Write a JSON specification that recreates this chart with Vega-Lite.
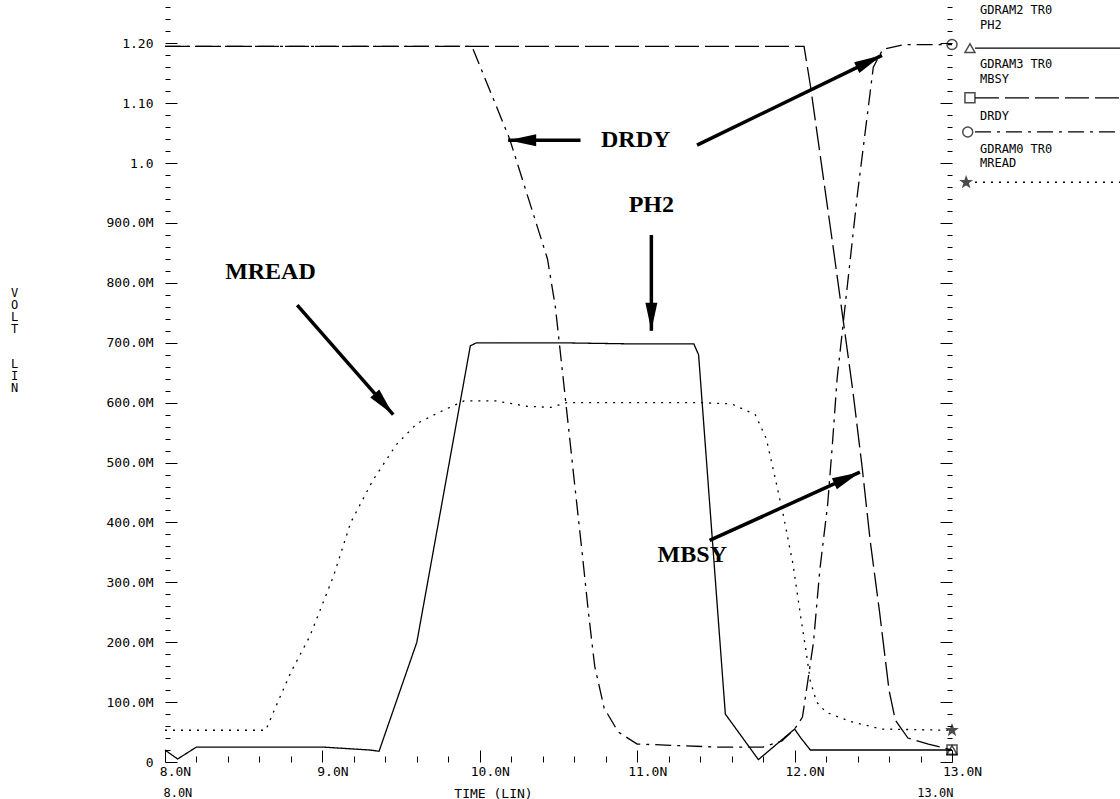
{
  "$schema": "https://vega.github.io/schema/vega-lite/v6.json",
  "width": 787,
  "height": 757,
  "autosize": {"type": "none"},
  "padding": {"left": 165, "top": 5, "right": 168, "bottom": 37},
  "background": "white",
  "config": {
    "view": {"stroke": null},
    "font": "DejaVu Sans Mono",
    "axis": {"labelColor": "black", "tickColor": "black", "titleColor": "black", "domain": false, "grid": false, "labelFont": "DejaVu Sans Mono", "titleFont": "DejaVu Sans Mono"}
  },
  "datasets": {
    "signals": [
      {"t": 8.0, "v": 0.02, "sig": "PH2"}, {"t": 8.08, "v": 0.005, "sig": "PH2"}, {"t": 8.2, "v": 0.025, "sig": "PH2"},
      {"t": 9.0, "v": 0.025, "sig": "PH2"}, {"t": 9.3, "v": 0.02, "sig": "PH2"}, {"t": 9.36, "v": 0.018, "sig": "PH2"},
      {"t": 9.6, "v": 0.2, "sig": "PH2"}, {"t": 9.94, "v": 0.695, "sig": "PH2"}, {"t": 9.98, "v": 0.7, "sig": "PH2"},
      {"t": 10.5, "v": 0.7, "sig": "PH2"}, {"t": 11.0, "v": 0.698, "sig": "PH2"}, {"t": 11.36, "v": 0.698, "sig": "PH2"},
      {"t": 11.39, "v": 0.68, "sig": "PH2"}, {"t": 11.56, "v": 0.08, "sig": "PH2"}, {"t": 11.77, "v": 0.004, "sig": "PH2"},
      {"t": 12.0, "v": 0.055, "sig": "PH2"}, {"t": 12.04, "v": 0.04, "sig": "PH2"}, {"t": 12.1, "v": 0.02, "sig": "PH2"},
      {"t": 12.5, "v": 0.02, "sig": "PH2"}, {"t": 13.0, "v": 0.02, "sig": "PH2"},

      {"t": 8.0, "v": 0.053, "sig": "MREAD"}, {"t": 8.64, "v": 0.053, "sig": "MREAD"}, {"t": 8.7, "v": 0.09, "sig": "MREAD"},
      {"t": 8.8, "v": 0.15, "sig": "MREAD"}, {"t": 8.92, "v": 0.21, "sig": "MREAD"}, {"t": 9.07, "v": 0.31, "sig": "MREAD"},
      {"t": 9.18, "v": 0.4, "sig": "MREAD"}, {"t": 9.32, "v": 0.47, "sig": "MREAD"}, {"t": 9.47, "v": 0.53, "sig": "MREAD"},
      {"t": 9.6, "v": 0.565, "sig": "MREAD"}, {"t": 9.75, "v": 0.585, "sig": "MREAD"}, {"t": 9.9, "v": 0.603, "sig": "MREAD"},
      {"t": 10.1, "v": 0.603, "sig": "MREAD"}, {"t": 10.3, "v": 0.594, "sig": "MREAD"}, {"t": 10.45, "v": 0.592, "sig": "MREAD"},
      {"t": 10.55, "v": 0.6, "sig": "MREAD"}, {"t": 11.0, "v": 0.6, "sig": "MREAD"}, {"t": 11.4, "v": 0.6, "sig": "MREAD"},
      {"t": 11.6, "v": 0.598, "sig": "MREAD"}, {"t": 11.75, "v": 0.58, "sig": "MREAD"}, {"t": 11.82, "v": 0.54, "sig": "MREAD"},
      {"t": 11.88, "v": 0.47, "sig": "MREAD"}, {"t": 11.93, "v": 0.41, "sig": "MREAD"}, {"t": 11.99, "v": 0.33, "sig": "MREAD"},
      {"t": 12.04, "v": 0.24, "sig": "MREAD"}, {"t": 12.07, "v": 0.19, "sig": "MREAD"}, {"t": 12.1, "v": 0.135, "sig": "MREAD"},
      {"t": 12.14, "v": 0.1, "sig": "MREAD"}, {"t": 12.2, "v": 0.083, "sig": "MREAD"}, {"t": 12.35, "v": 0.068, "sig": "MREAD"},
      {"t": 12.55, "v": 0.055, "sig": "MREAD"}, {"t": 13.0, "v": 0.053, "sig": "MREAD"},

      {"t": 8.0, "v": 1.195, "sig": "DRDY"}, {"t": 9.95, "v": 1.195, "sig": "DRDY"}, {"t": 10.19, "v": 1.04, "sig": "DRDY"},
      {"t": 10.43, "v": 0.84, "sig": "DRDY"}, {"t": 10.48, "v": 0.76, "sig": "DRDY"}, {"t": 10.53, "v": 0.64, "sig": "DRDY"},
      {"t": 10.6, "v": 0.47, "sig": "DRDY"}, {"t": 10.65, "v": 0.35, "sig": "DRDY"}, {"t": 10.69, "v": 0.25, "sig": "DRDY"},
      {"t": 10.73, "v": 0.16, "sig": "DRDY"}, {"t": 10.79, "v": 0.09, "sig": "DRDY"}, {"t": 10.88, "v": 0.05, "sig": "DRDY"},
      {"t": 11.0, "v": 0.03, "sig": "DRDY"}, {"t": 11.5, "v": 0.025, "sig": "DRDY"}, {"t": 11.8, "v": 0.025, "sig": "DRDY"},
      {"t": 11.92, "v": 0.035, "sig": "DRDY"}, {"t": 12.0, "v": 0.055, "sig": "DRDY"}, {"t": 12.05, "v": 0.075, "sig": "DRDY"},
      {"t": 12.12, "v": 0.2, "sig": "DRDY"}, {"t": 12.16, "v": 0.32, "sig": "DRDY"}, {"t": 12.21, "v": 0.43, "sig": "DRDY"},
      {"t": 12.24, "v": 0.53, "sig": "DRDY"}, {"t": 12.27, "v": 0.64, "sig": "DRDY"}, {"t": 12.4, "v": 0.95, "sig": "DRDY"},
      {"t": 12.5, "v": 1.16, "sig": "DRDY"}, {"t": 12.56, "v": 1.19, "sig": "DRDY"}, {"t": 12.7, "v": 1.198, "sig": "DRDY"},
      {"t": 13.0, "v": 1.198, "sig": "DRDY"},

      {"t": 8.0, "v": 1.195, "sig": "MBSY"}, {"t": 12.06, "v": 1.195, "sig": "MBSY"}, {"t": 12.1, "v": 1.13, "sig": "MBSY"},
      {"t": 12.25, "v": 0.85, "sig": "MBSY"}, {"t": 12.37, "v": 0.62, "sig": "MBSY"}, {"t": 12.43, "v": 0.49, "sig": "MBSY"},
      {"t": 12.48, "v": 0.37, "sig": "MBSY"}, {"t": 12.54, "v": 0.25, "sig": "MBSY"}, {"t": 12.6, "v": 0.12, "sig": "MBSY"},
      {"t": 12.64, "v": 0.07, "sig": "MBSY"}, {"t": 12.72, "v": 0.04, "sig": "MBSY"}, {"t": 12.85, "v": 0.03, "sig": "MBSY"},
      {"t": 13.0, "v": 0.02, "sig": "MBSY"}
    ],
    "markers": [
      {"t": 13.0, "v": 0.02, "sig": "PH2"}, {"t": 13.0, "v": 0.02, "sig": "MBSY"},
      {"t": 13.0, "v": 1.198, "sig": "DRDY"}, {"t": 13.0, "v": 0.053, "sig": "MREAD"},
      {"t": 13.114, "v": 1.192, "sig": "PH2"}, {"t": 13.114, "v": 1.109, "sig": "MBSY"},
      {"t": 13.1, "v": 1.052, "sig": "DRDY"}, {"t": 13.09, "v": 0.968, "sig": "MREAD"}
    ],
    "legendlines": [
      {"t1": 13.146, "t2": 14.07, "v": 1.192, "sig": "PH2"},
      {"t1": 13.146, "t2": 14.07, "v": 1.109, "sig": "MBSY"},
      {"t1": 13.146, "t2": 14.07, "v": 1.052, "sig": "DRDY"},
      {"t1": 13.146, "t2": 14.07, "v": 0.968, "sig": "MREAD"}
    ],
    "labels": [
      {"t": 13.178, "v": 1.255, "text": "GDRAM2 TR0"},
      {"t": 13.178, "v": 1.231, "text": "PH2"},
      {"t": 13.178, "v": 1.165, "text": "GDRAM3 TR0"},
      {"t": 13.178, "v": 1.141, "text": "MBSY"},
      {"t": 13.178, "v": 1.078, "text": "DRDY"},
      {"t": 13.178, "v": 1.024, "text": "GDRAM0 TR0"},
      {"t": 13.178, "v": 1.0, "text": "MREAD"},
      {"t": 7.99, "v": -0.052, "text": "8.0N"},
      {"t": 12.78, "v": -0.052, "text": "13.0N"}
    ],
    "notes": [
      {"t": 10.99, "v": 1.038, "text": "DRDY"},
      {"t": 11.09, "v": 0.93, "text": "PH2"},
      {"t": 8.67, "v": 0.818, "text": "MREAD"},
      {"t": 11.35, "v": 0.346, "text": "MBSY"}
    ],
    "arrows": [
      {"t1": 10.64, "v1": 1.038, "t2": 10.18, "v2": 1.038},
      {"t1": 11.38, "v1": 1.03, "t2": 12.555, "v2": 1.18},
      {"t1": 11.09, "v1": 0.88, "t2": 11.09, "v2": 0.72},
      {"t1": 8.84, "v1": 0.763, "t2": 9.45, "v2": 0.58},
      {"t1": 11.46, "v1": 0.37, "t2": 12.415, "v2": 0.484}
    ]
  },
  "resolve": {"axis": {"x": "independent", "y": "independent"}},
  "layer": [
    {
      "data": {"name": "signals"},
      "mark": {"type": "line", "color": "black", "strokeWidth": 1.3},
      "encoding": {
        "x": {"field": "t", "type": "quantitative", "scale": {"domain": [8, 13], "nice": false, "zero": false},
          "axis": {"orient": "bottom", "values": [8, 9, 10, 11, 12, 13], "labelExpr": "format(datum.value,'.1f')+'N'",
            "tickSize": 12, "offset": -12, "labelPadding": 3, "labelFontSize": 13, "labelFlush": false, "labelOffset": 10,
            "labelOverlap": false, "title": "TIME (LIN)", "titleFontSize": 13, "titleFontWeight": "normal",
            "titleX": 328, "titleY": 43, "titleBaseline": "middle", "titleAlign": "center"}},
        "y": {"field": "v", "type": "quantitative", "scale": {"domain": [0, 1.264], "nice": false, "zero": false},
          "axis": {"orient": "left", "values": [0, 0.1, 0.2, 0.3, 0.4, 0.5, 0.6, 0.7, 0.8, 0.9, 1.0, 1.1, 1.2],
            "labelExpr": "datum.value==0 ? '0' : datum.value < 0.95 ? format(datum.value*1000,'.1f')+'M' : datum.value < 1.05 ? '1.0' : format(datum.value,'.2f')",
            "tickSize": 12, "offset": -12, "labelPadding": 12, "labelFontSize": 13, "labelFlush": false, "labelOverlap": false,
            "title": ["V", "O", "L", "T"], "titleAngle": 0, "titleX": -163, "titleY": 282,
            "titleBaseline": "top", "titleAlign": "center", "titleLineHeight": 12, "titleFontWeight": "normal", "titleFontSize": 12}},
        "strokeDash": {"field": "sig", "type": "nominal",
          "scale": {"domain": ["PH2", "MBSY", "DRDY", "MREAD"], "range": [[1, 0], [24, 6], [16, 6, 3, 6], [2, 6]]}, "legend": null}
      }
    },
    {
      "data": {"name": "legendlines"},
      "mark": {"type": "rule", "color": "black", "strokeWidth": 1.3},
      "encoding": {
        "x": {"field": "t1", "type": "quantitative", "scale": {"domain": [8, 13], "nice": false, "zero": false},
          "axis": {"orient": "bottom", "values": [8.2, 8.4, 8.6, 8.8, 9.2, 9.4, 9.6, 9.8, 10.2, 10.4, 10.6, 10.8, 11.2, 11.4, 11.6, 11.8, 12.2, 12.4, 12.6, 12.8],
            "labels": false, "tickSize": 6, "offset": -6, "title": null}},
        "x2": {"field": "t2"},
        "y": {"field": "v", "type": "quantitative", "scale": {"domain": [0, 1.264], "nice": false, "zero": false},
          "axis": {"orient": "left", "labels": false, "tickSize": 5, "offset": -5,
            "title": ["L", "I", "N"], "titleAngle": 0, "titleX": -156, "titleY": 353,
            "titleBaseline": "top", "titleAlign": "center", "titleLineHeight": 12, "titleFontWeight": "normal", "titleFontSize": 12,
            "values": [0.02,0.04,0.06,0.08,0.12,0.14,0.16,0.18,0.22,0.24,0.26,0.28,0.32,0.34,0.36,0.38,0.42,0.44,0.46,0.48,0.52,0.54,0.56,0.58,0.62,0.64,0.66,0.68,0.72,0.74,0.76,0.78,0.82,0.84,0.86,0.88,0.92,0.94,0.96,0.98,1.02,1.04,1.06,1.08,1.12,1.14,1.16,1.18,1.22,1.24,1.26]}},
        "strokeDash": {"field": "sig", "type": "nominal", "legend": null}
      }
    },
    {
      "data": {"name": "markers"},
      "mark": {"type": "point", "filled": true, "stroke": "black", "strokeWidth": 1.5, "size": 100},
      "encoding": {
        "x": {"field": "t", "type": "quantitative", "scale": {"domain": [8, 13], "nice": false, "zero": false}, "axis": null},
        "y": {"field": "v", "type": "quantitative", "scale": {"domain": [0, 1.264], "nice": false, "zero": false},
          "axis": {"orient": "right", "labels": false, "tickSize": 12, "offset": -12, "title": null,
            "values": [0, 0.1, 0.2, 0.3, 0.4, 0.5, 0.6, 0.7, 0.8, 0.9, 1.0, 1.1, 1.2]}},
        "shape": {"field": "sig", "type": "nominal",
          "scale": {"domain": ["PH2", "MBSY", "DRDY", "MREAD"],
            "range": ["triangle-up", "square", "circle", "M0,-1L0.24,-0.33L0.95,-0.31L0.38,0.12L0.59,0.81L0,0.4L-0.59,0.81L-0.38,0.12L-0.95,-0.31L-0.24,-0.33Z"]}, "legend": null},
        "fill": {"field": "sig", "type": "nominal",
          "scale": {"domain": ["PH2", "MBSY", "DRDY", "MREAD"], "range": ["transparent", "transparent", "transparent", "black"]}, "legend": null}
      }
    },
    {
      "data": {"name": "labels"},
      "mark": {"type": "text", "align": "left", "baseline": "middle", "font": "DejaVu Sans Mono", "fontSize": 12, "color": "black"},
      "encoding": {
        "x": {"field": "t", "type": "quantitative", "scale": {"domain": [8, 13], "nice": false, "zero": false}, "axis": null},
        "y": {"field": "v", "type": "quantitative", "scale": {"domain": [0, 1.264], "nice": false, "zero": false},
          "axis": {"orient": "right", "labels": false, "tickSize": 5, "offset": -5, "title": null,
            "values": [0.02,0.04,0.06,0.08,0.12,0.14,0.16,0.18,0.22,0.24,0.26,0.28,0.32,0.34,0.36,0.38,0.42,0.44,0.46,0.48,0.52,0.54,0.56,0.58,0.62,0.64,0.66,0.68,0.72,0.74,0.76,0.78,0.82,0.84,0.86,0.88,0.92,0.94,0.96,0.98,1.02,1.04,1.06,1.08,1.12,1.14,1.16,1.18,1.22,1.24,1.26]}},
        "text": {"field": "text"}
      }
    },
    {
      "data": {"name": "notes"},
      "mark": {"type": "text", "align": "center", "baseline": "middle", "font": "Liberation Serif", "fontWeight": "bold", "fontSize": 24, "color": "black"},
      "encoding": {
        "x": {"field": "t", "type": "quantitative", "scale": {"domain": [8, 13], "nice": false, "zero": false}, "axis": null},
        "y": {"field": "v", "type": "quantitative", "scale": {"domain": [0, 1.264], "nice": false, "zero": false}, "axis": null},
        "text": {"field": "text"}
      }
    },
    {
      "data": {"name": "arrows"},
      "mark": {"type": "rule", "color": "black", "strokeWidth": 3.5},
      "encoding": {
        "x": {"field": "t1", "type": "quantitative", "scale": {"domain": [8, 13], "nice": false, "zero": false}, "axis": null},
        "y": {"field": "v1", "type": "quantitative", "scale": {"domain": [0, 1.264], "nice": false, "zero": false}, "axis": null},
        "x2": {"field": "t2"},
        "y2": {"field": "v2"}
      }
    },
    {
      "data": {"name": "arrows"},
      "mark": {"type": "point", "filled": true, "color": "black", "opacity": 1, "size": 1400,
        "shape": "M0,0L0.32,1.5L-0.32,1.5Z",
        "angle": {"expr": "atan2((datum.t2-datum.t1)*157.4,(datum.v2-datum.v1)*598.9)*180/PI"}},
      "encoding": {
        "x": {"field": "t2", "type": "quantitative", "scale": {"domain": [8, 13], "nice": false, "zero": false}, "axis": null},
        "y": {"field": "v2", "type": "quantitative", "scale": {"domain": [0, 1.264], "nice": false, "zero": false}, "axis": null}
      }
    }
  ]
}
